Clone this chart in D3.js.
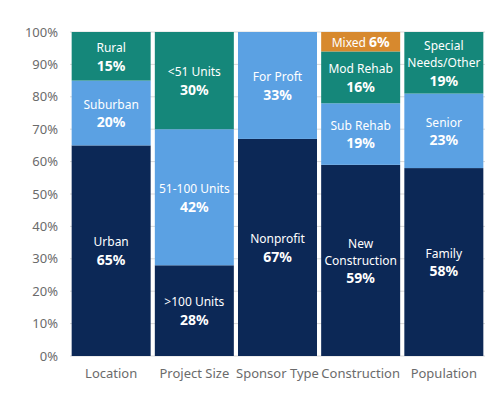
<!DOCTYPE html>
<html><head><meta charset="utf-8">
<script src="https://cdn.jsdelivr.net/npm/d3@7"></script>
<style>body{margin:0;background:#fff;font-family:"Noto Sans",sans-serif}</style>
</head><body><div id="chart"></div>
<script>
// Chart data
const categories = ["Location", "Project Size", "Sponsor Type", "Construction", "Population"];
const segLabels = [
  [["Urban"], ["Suburban"], ["Rural"]],
  [[">100 Units"], ["51-100 Units"], ["<51 Units"]],
  [["Nonprofit"], ["For Proft"]],
  [["New", "Construction"], ["Sub Rehab"], ["Mod Rehab"], ["Mixed"]],
  [["Family"], ["Senior"], ["Special", "Needs/Other"]]
];
const segValues = [
  [65, 20, 15],
  [28, 42, 30],
  [67, 33],
  [59, 19, 16, 6],
  [58, 23, 19]
];
const segColors = ["#0c2856", "#5ba1e3", "#15877a", "#d7892e"];
const yTicks = [0, 10, 20, 30, 40, 50, 60, 70, 80, 90, 100];

const width = 500, height = 415;
const margin = {top: 32, right: 15, bottom: 59, left: 70};

const svg = d3.select("#chart").append("svg")
  .attr("width", width).attr("height", height);

const x = d3.scaleBand().domain(categories)
  .range([margin.left, width - margin.right]).paddingInner(0.05).paddingOuter(0.02);
const y = d3.scaleLinear().domain([0, 100]).range([height - margin.bottom, margin.top]);

// gridlines
svg.selectAll(".grid").data(yTicks).enter().append("line")
  .attr("x1", margin.left).attr("x2", width - margin.right)
  .attr("y1", d => y(d)).attr("y2", d => y(d))
  .attr("stroke", "#d9d9d9").attr("stroke-width", 1);

svg.selectAll(".ytick").data(yTicks).enter().append("text")
  .attr("x", margin.left - 12).attr("y", d => y(d)).attr("dy", "0.35em")
  .attr("text-anchor", "end").attr("fill", "#6b6b6b").style("font-size", "13px")
  .text(d => d + "%");

categories.forEach((cat, i) => {
  let cum = 0;
  const g = svg.append("g");
  segValues[i].forEach((v, j) => {
    const y0 = cum, y1 = cum + v;
    cum = y1;
    g.append("rect")
      .attr("x", x(cat)).attr("width", x.bandwidth())
      .attr("y", y(y1)).attr("height", y(y0) - y(y1))
      .attr("fill", segColors[j]);
    const cx = x(cat) + x.bandwidth() / 2;
    const mid = y((y0 + y1) / 2);
    const lines = segLabels[i][j];
    const t = g.append("text").attr("text-anchor", "middle").attr("fill", "#fff");
    if (v < 10) {
      // single line label
      t.attr("x", cx).attr("y", mid).attr("dy", "0.35em");
      t.append("tspan").style("font-size", "12px").text(lines[0] + " ");
      t.append("tspan").style("font-size", "14px").style("font-weight", "bold").text(v + "%");
    } else {
      const n = lines.length + 1;
      const lh = 17;
      const start = mid - (n - 1) * lh / 2;
      lines.forEach((l, k) => {
        t.append("tspan").attr("x", cx).attr("y", start + k * lh).attr("dy", "0.35em")
          .style("font-size", "12px").text(l);
      });
      t.append("tspan").attr("x", cx).attr("y", start + lines.length * lh + 1).attr("dy", "0.35em")
        .style("font-size", "14px").style("font-weight", "bold").text(v + "%");
    }
  });
  svg.append("text").attr("x", x(cat) + x.bandwidth() / 2).attr("y", height - margin.bottom + 22)
    .attr("text-anchor", "middle").attr("fill", "#6b6b6b").style("font-size", "13px").text(cat);
});
</script></body></html>
